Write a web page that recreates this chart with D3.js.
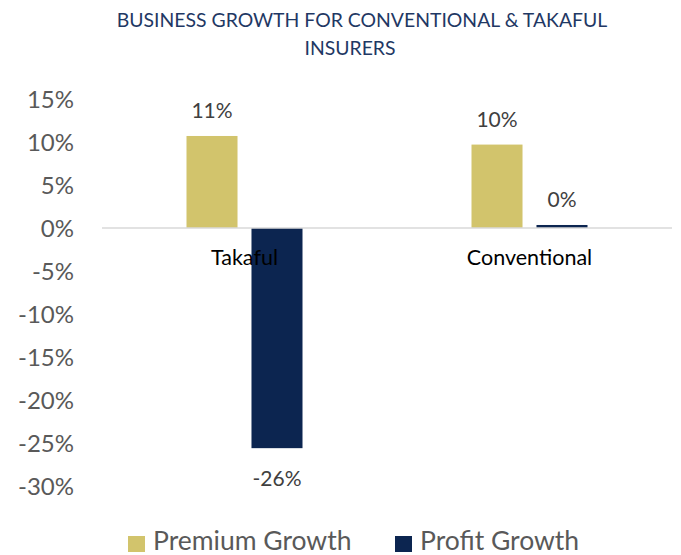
<!DOCTYPE html>
<html><head><meta charset="utf-8">
<script src="https://cdn.jsdelivr.net/npm/d3@7"></script>
<style>body{margin:0;background:#fff;}svg{display:block;font-family:Lato,"Open Sans",sans-serif;}</style>
</head><body>
<svg id="chart" width="681" height="555"></svg>
<script>
const categories = ["Takaful", "Conventional"];
const seriesNames = ["Premium Growth", "Profit Growth"];
const premiumGrowth = [10.7, 9.7];
const profitGrowth = [-25.6, 0.35];
const premiumLabels = ["11%", "10%"];
const profitLabels = ["-26%", "0%"];
const yTicks = [15, 10, 5, 0, -5, -10, -15, -20, -25, -30];
const colors = ["#D2C46C", "#0C2550"];

const svg = d3.select("#chart");
const x0 = d3.scaleBand().domain(categories).range([102, 672]).padding(0);
const x1 = d3.scaleBand().domain(seriesNames).range([-58, 58]).paddingInner(0.215);
const y = d3.scaleLinear().domain([-30, 15]).range([486, 99]);

// title
svg.append("text").attr("x", 362).attr("y", 27).attr("text-anchor", "middle")
  .attr("fill", "#1F3864").attr("font-size", 19.4).text("BUSINESS GROWTH FOR CONVENTIONAL & TAKAFUL");
svg.append("text").attr("x", 350).attr("y", 55).attr("text-anchor", "middle")
  .attr("fill", "#1F3864").attr("font-size", 19.4).text("INSURERS");

// y axis
const yAxis = d3.axisLeft(y).tickValues(yTicks).tickSize(0).tickPadding(0).tickFormat(d => d + "%");
const ga = svg.append("g").attr("transform", "translate(74,0)").call(yAxis);
ga.select(".domain").remove();
ga.selectAll("text").attr("fill", "#595959").attr("font-size", 24).attr("font-family", "Lato").attr("dy", "0.35em");

const data = categories.map((c, i) => ({cat: c, vals: [
  {s: seriesNames[0], v: premiumGrowth[i], lab: premiumLabels[i], c: colors[0]},
  {s: seriesNames[1], v: profitGrowth[i], lab: profitLabels[i], c: colors[1]}]}));

const groups = svg.selectAll("g.grp").data(data).join("g").attr("class", "grp")
  .attr("transform", d => `translate(${x0(d.cat) + x0.bandwidth() / 2},0)`);
groups.selectAll("rect").data(d => d.vals).join("rect")
  .attr("x", d => x1(d.s)).attr("width", x1.bandwidth())
  .attr("y", d => y(Math.max(0, d.v))).attr("height", d => Math.abs(y(d.v) - y(0)))
  .attr("fill", d => d.c);

// zero line
svg.append("line").attr("x1", 102).attr("x2", 672).attr("y1", y(0)).attr("y2", y(0))
  .attr("stroke", "#D9D9D9").attr("stroke-width", 1.5);

groups.selectAll("text.lab").data(d => d.vals).join("text").attr("class", "lab")
  .attr("x", d => x1(d.s) + x1.bandwidth() / 2)
  .attr("y", d => d.v >= 0 ? y(d.v) - 18 : y(d.v) + 38)
  .attr("text-anchor", "middle").attr("fill", "#404040").attr("font-size", 21).text(d => d.lab);

groups.append("text").attr("y", 265).attr("text-anchor", "middle")
  .attr("fill", "#000").attr("font-size", 21.5).text(d => d.cat);

// legend
const leg = svg.append("g");
const legX = [128, 395];
seriesNames.forEach((s, i) => {
  leg.append("rect").attr("x", legX[i]).attr("y", 536).attr("width", 17).attr("height", 16).attr("fill", colors[i]);
  leg.append("text").attr("x", legX[i] + 25).attr("y", 550).attr("fill", "#595959")
    .attr("font-size", 26.5).text(s);
});
</script>
</body></html>
